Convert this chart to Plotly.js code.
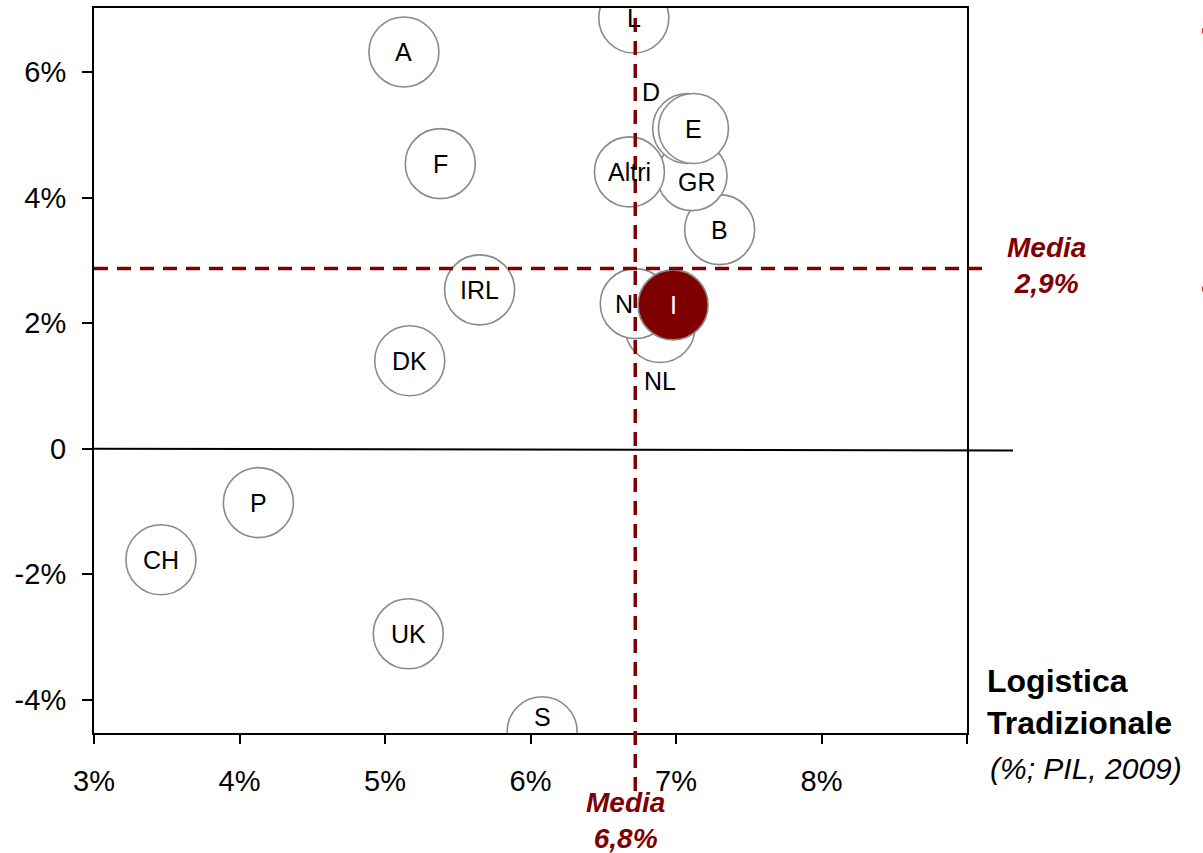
<!DOCTYPE html>
<html>
<head>
<meta charset="utf-8">
<script src="https://cdn.plot.ly/plotly-3.0.1.min.js"></script>
<style>html,body{margin:0;padding:0;background:#fff;}#chart{width:1203px;height:853px;}</style>
</head>
<body>
<div id="chart"></div>
<script>
// ---- data ----
const countries = ["A","L","F","IRL","DK","P","CH","UK","S","B","GR","D","E","Altri","NL","N","I"];
const logisticaTradizionale = [5.13,6.71,5.38,5.65,5.17,4.13,3.46,5.16,6.08,7.30,7.11,7.08,7.12,6.68,6.89,6.72,6.98];
const crescita = [6.32,6.86,4.54,2.53,1.40,-0.86,-1.77,-2.95,-4.51,3.49,4.35,5.10,5.10,4.41,1.93,2.31,2.29];
const mediaX = 6.72;
const mediaY = 2.87;
const mediaXLabel = "Media<br>6,8%";
const mediaYLabel = "Media<br>2,9%";
const xTickVals = [3,4,5,6,7,8,9];
const xTickText = ["3%","4%","5%","6%","7%","8%",""];
const yTickVals = [6,4,2,0,-2,-4];
const yTickText = ["6%","4%","2%","0","-2%","-4%"];
const highlight = "I";

// ---- style ----
const DARKRED = "#7f0000";
const FONT = "Liberation Sans, Arial, sans-serif";
const labelShift = {D:{x:-37,y:37}, NL:{x:0,y:-53}, S:{x:0,y:15}, N:{x:-11,y:0}, GR:{x:5,y:-6}};

const colors = countries.map(c => c === highlight ? DARKRED : "#ffffff");

const trace = {
  type: "scatter",
  mode: "markers",
  x: logisticaTradizionale,
  y: crescita,
  cliponaxis: true,
  hoverinfo: "skip",
  marker: {size: 70, color: colors, line: {color: "#8a8a8a", width: 1.6}}
};

const annotations = countries.map((c, i) => ({
  x: logisticaTradizionale[i], y: crescita[i], xref: "x", yref: "y",
  text: c, showarrow: false,
  xshift: (labelShift[c] || {x:0}).x, yshift: (labelShift[c] || {y:0}).y,
  font: {family: FONT, size: 25, color: c === highlight ? "#ffffff" : "#000000"}
}));

annotations.push(
  {xref:"paper", yref:"paper", x:1.0916, y:0.6455, xanchor:"center", yanchor:"middle",
   text: mediaYLabel, showarrow:false,
   font:{family:FONT, size:28, color:DARKRED, weight:"bold", style:"italic"}},
  {xref:"paper", yref:"paper", x:0.609, y:-0.12, xanchor:"center", yanchor:"middle",
   text: mediaXLabel, showarrow:false,
   font:{family:FONT, size:28, color:DARKRED, weight:"bold", style:"italic"}},
  {xref:"paper", yref:"paper", x:1.0206, y:0.0428, xanchor:"left", yanchor:"middle", align:"left",
   text: "Logistica<br>Tradizionale", showarrow:false,
   font:{family:FONT, size:32, color:"#000000", weight:"bold"}},
  {xref:"paper", yref:"paper", x:1.024, y:-0.0483, xanchor:"left", yanchor:"middle",
   text: "(%; PIL, 2009)", showarrow:false,
   font:{family:FONT, size:30, color:"#000000", style:"italic"}}
);

const shapes = [
  {type:"line", xref:"paper", yref:"y", x0:0, x1:1.0527, y0:0, y1:-0.03,
   line:{color:"#000000", width:2}},
  {type:"line", xref:"x", yref:"paper", x0:mediaX, x1:mediaX, y0:-0.08, y1:0.99,
   line:{color:DARKRED, width:3.5, dash:"14px,9px"}},
  {type:"line", xref:"paper", yref:"y", x0:0, x1:1.0206, y0:mediaY, y1:mediaY,
   line:{color:DARKRED, width:3.5, dash:"14px,9px"}},
  {type:"rect", xref:"paper", yref:"paper", x0:1.2694, x1:1.2715, y0:0.965, y1:0.972,
   line:{width:0}, fillcolor:"#c00000"},
  {type:"rect", xref:"paper", yref:"paper", x0:1.2694, x1:1.2715, y0:0.609, y1:0.616,
   line:{width:0}, fillcolor:"#c00000"}
];

const layout = {
  width: 1203, height: 853,
  margin: {l:94, r:236, t:8, b:120},
  paper_bgcolor: "#ffffff", plot_bgcolor: "#ffffff",
  showlegend: false,
  font: {family: FONT, color: "#000000"},
  xaxis: {
    range: [3, 9], tickvals: xTickVals, ticktext: xTickText,
    showgrid: false, zeroline: false, showline: true, mirror: true,
    linecolor: "#000000", linewidth: 2,
    ticks: "outside", ticklen: 9, tickwidth: 2, tickcolor: "#000000",
    ticklabelstandoff: 12,
    tickfont: {family: FONT, size: 29, color: "#000000"}
  },
  yaxis: {
    range: [-4.53, 7.02], tickvals: yTickVals, ticktext: yTickText,
    showgrid: false, zeroline: false, showline: true, mirror: true,
    linecolor: "#000000", linewidth: 2,
    ticks: "outside", ticklen: 10, tickwidth: 2, tickcolor: "#000000",
    ticklabelstandoff: 10,
    tickfont: {family: FONT, size: 29, color: "#000000"}
  },
  shapes: shapes,
  annotations: annotations
};

Plotly.newPlot("chart", [trace], layout, {displayModeBar: false, staticPlot: true});
</script>
</body>
</html>
